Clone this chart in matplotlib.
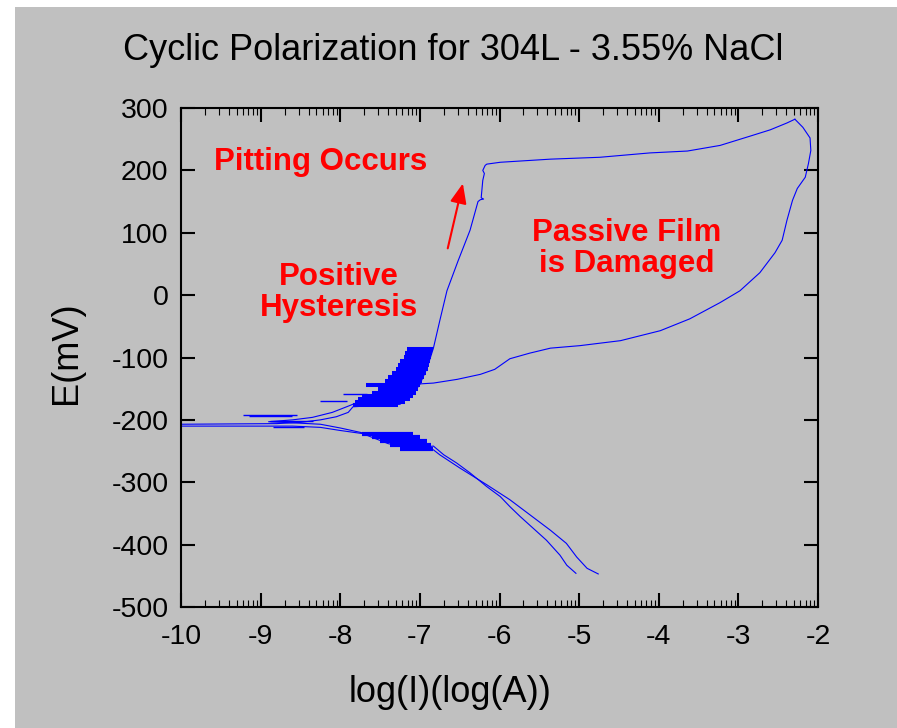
import numpy as np
import matplotlib
matplotlib.use("Agg")
import matplotlib.pyplot as plt
from matplotlib.patches import Rectangle

plt.rcParams['font.family'] = ['Liberation Sans', 'DejaVu Sans']
plt.rcParams['axes.unicode_minus'] = False

GRAY = '#c0c0c0'

# forward scan: cathodic tail -> Ecorr -> anodic branch -> pitting -> vertex
fwd_x = [-4.76, -4.90, -5.03, -5.16, -5.36, -5.62, -5.87, -6.16, -6.50, -6.75, -6.83,
         -7.09, -7.40, -7.72, -8.00, -8.25, -8.60, -10.0,
         -10.0, -8.80, -8.50, -8.25, -8.05, -7.90, -7.84, -7.25, -7.09, -7.00, -6.91,
         -6.83, -6.75, -6.66, -6.52, -6.37, -6.27, -6.24, -6.20, -6.23, -6.21, -6.19,
         -6.21, -6.18, -6.16,
         -5.99, -5.36, -4.74, -4.11, -3.64, -3.23, -2.85, -2.60, -2.39, -2.29]
fwd_y = [-447, -438, -420, -398, -377, -352, -328, -304, -277, -256, -248,
         -247, -238, -222, -217, -212, -210, -210,
         -207, -206, -204, -200, -195, -188, -179, -175, -159, -143, -117,
         -85, -41, 7, 55, 104, 150, 153, 154, 156, 184, 195,
         200, 208, 210,
         213, 218, 221, 228, 231, 240, 255, 265, 276, 282]

# reverse scan: vertex -> repassivation -> second cathodic tail
rev_x = [-2.29, -2.19, -2.10, -2.09, -2.12, -2.16, -2.26, -2.32, -2.39, -2.45, -2.54,
         -2.73, -2.98, -3.23, -3.61, -3.98, -4.48, -4.99, -5.36, -5.62, -5.87,
         -6.06, -6.24, -6.53, -6.83, -7.09, -7.35, -7.65, -7.90, -8.10, -8.35,
         -8.60, -8.90, -8.55, -8.25, -8.00, -7.75, -7.50, -7.25, -7.05, -6.83,
         -6.70, -6.54, -6.37, -6.16, -5.99, -5.87, -5.74, -5.575, -5.41, -5.24,
         -5.155, -5.04]
rev_y = [282, 269, 252, 232, 211, 189, 171, 152, 120, 88, 68,
         36, 7, -12, -38, -57, -73, -81, -85, -93, -102,
         -119, -127, -135, -141, -143, -150, -165, -178, -188, -196,
         -200, -203, -205, -207, -213, -220, -228, -238, -245, -242,
         -256, -269, -285, -307, -323, -339, -355, -374, -393, -417,
         -433, -446]

# metastable pitting noise (anodic side): potential, low and high log(I) of each sweep row
noise_E = [-86, -93, -99, -106, -112, -118, -125, -131, -138, -144, -151, -157,
           -162, -167, -172, -176]
noise_lo = [-7.16, -7.19, -7.20, -7.25, -7.27, -7.30, -7.35, -7.40, -7.44, -7.68,
            -7.53, -7.60, -7.73, -7.78, -7.81, -7.84]
noise_hi = [-6.83, -6.85, -6.86, -6.87, -6.88, -6.90, -6.92, -6.95, -6.97, -7.00,
            -7.02, -7.05, -7.09, -7.12, -7.19, -7.27]

# noise rows on the cathodic side
cnoise_E = [-222, -228, -234, -241, -247]
cnoise_lo = [-7.73, -7.60, -7.50, -7.37, -7.25]
cnoise_hi = [-7.09, -7.00, -6.91, -6.86, -6.83]

# single current spikes
spk_E = [-158, -170, -192, -194, -202, -211]
spk_lo = [-7.96, -8.25, -9.22, -9.15, -8.88, -8.85]
spk_hi = [-7.66, -7.91, -8.54, -8.60, -8.34, -8.45]

fig = plt.figure(figsize=(8.97, 7.28), dpi=100, facecolor='white')
fig.patches.append(Rectangle((15 / 897, 0), 1, 1 - 7 / 728, transform=fig.transFigure,
                             facecolor=GRAY, edgecolor='none', zorder=-10))
ax = fig.add_axes([181 / 897, 1 - 607 / 728, 637 / 897, 499 / 728])
ax.set_facecolor(GRAY)

ax.plot(fwd_x, fwd_y, color='blue', lw=0.8)
ax.plot(rev_x, rev_y, color='blue', lw=0.8)
ax.hlines(noise_E, noise_lo, noise_hi, color='blue', lw=2.9)
ax.hlines(cnoise_E, cnoise_lo, cnoise_hi, color='blue', lw=3.0)
ax.hlines(spk_E, spk_lo, spk_hi, color='blue', lw=1.0)

ax.set_xlim(-10, -2)
ax.set_ylim(-500, 300)
ax.set_xticks(np.arange(-10, -1, 1))
ax.set_yticks(np.arange(-500, 301, 100))
minor = [d + np.log10(k) for d in range(-10, -2) for k in range(2, 10)]
ax.set_xticks(minor, minor=True)
ax.tick_params(which='major', direction='in', length=10, width=1.5, labelsize=20.5,
               top=True, right=True)
ax.tick_params(which='minor', direction='in', length=5, width=0.8, top=True)
ax.tick_params(axis='y', pad=9)
ax.tick_params(axis='x', pad=12)
for s in ax.spines.values():
    s.set_linewidth(1.5)

ax.set_xlabel('log(I)(log(A))', fontsize=26)
ax.xaxis.set_label_coords(0.422, -0.136)
ax.set_ylabel('E(mV)', fontsize=26)
ax.yaxis.set_label_coords(-0.152, 0.51)
fig.text(0.505, 1 - 50 / 728, 'Cyclic Polarization for 304L - 3.55% NaCl',
         fontsize=26, ha='center', va='center')

red = dict(color='red', fontsize=22.5, fontweight='bold', ha='center', va='center',
           linespacing=1.05)
ax.text(-8.25, 213, 'Pitting Occurs', **red)
ax.text(-8.02, 4, 'Positive\nHysteresis', **red)
ax.text(-4.40, 75, 'Passive Film\nis Damaged', **red)
ax.annotate('', xy=(-6.46, 179), xytext=(-6.65, 75),
            arrowprops=dict(arrowstyle='-|>,head_length=0.6,head_width=0.25',
                            color='red', lw=1.5, mutation_scale=20,
                            shrinkA=0, shrinkB=0))

fig.savefig('out.png', dpi=100, facecolor='white')
